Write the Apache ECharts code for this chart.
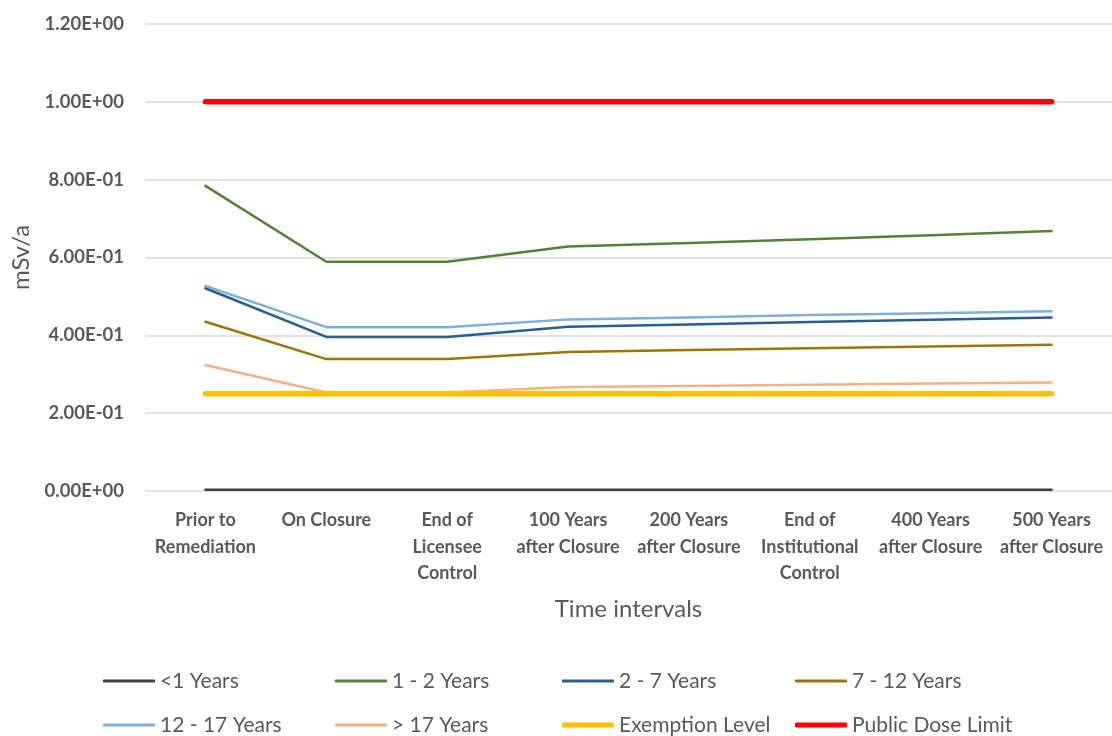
<!DOCTYPE html>
<html>
<head>
<meta charset="utf-8">
<script src="https://cdn.jsdelivr.net/npm/echarts@6/dist/echarts.min.js"></script>
<style>
  html, body { margin: 0; padding: 0; background: #fff; }
  #chart { width: 1112px; height: 736px; }
</style>
</head>
<body>
<div id="chart"></div>
<script>
// Time intervals on the x axis
const categories = [
  'Prior to\nRemediation',
  'On Closure',
  'End of\nLicensee\nControl',
  '100 Years\nafter Closure',
  '200 Years\nafter Closure',
  'End of\nInstitutional\nControl',
  '400 Years\nafter Closure',
  '500 Years\nafter Closure'
];

// Dose (mSv/a) by age group
const ageUnder1 = [0.003, 0.003, 0.003, 0.003, 0.003, 0.003, 0.003, 0.003];
const age1to2   = [0.784, 0.589, 0.589, 0.628, 0.637, 0.647, 0.657, 0.668];
const age2to7   = [0.521, 0.396, 0.396, 0.422, 0.428, 0.434, 0.440, 0.446];
const age7to12  = [0.435, 0.339, 0.339, 0.357, 0.362, 0.367, 0.371, 0.376];
const age12to17 = [0.527, 0.421, 0.421, 0.441, 0.446, 0.452, 0.457, 0.462];
const ageOver17 = [0.324, 0.253, 0.253, 0.267, 0.270, 0.273, 0.276, 0.279];

// Reference levels
const exemptionLevel  = [0.25, 0.25, 0.25, 0.25, 0.25, 0.25, 0.25, 0.25];
const publicDoseLimit = [1.0, 1.0, 1.0, 1.0, 1.0, 1.0, 1.0, 1.0];

// Y axis tick labels
const yTickLabels = ['0.00E+00', '2.00E-01', '4.00E-01', '6.00E-01', '8.00E-01', '1.00E+00', '1.20E+00'];

const FONT = 'Lato, "Open Sans", sans-serif';
const TXT = '#595959';

const seriesDefs = [
  { name: '<1 Years',          data: ageUnder1,       color: '#404040', width: 2.5 },
  { name: '1 - 2 Years',       data: age1to2,         color: '#548235', width: 2.5 },
  { name: '2 - 7 Years',       data: age2to7,         color: '#255e91', width: 2.5 },
  { name: '7 - 12 Years',      data: age7to12,        color: '#9e7400', width: 2.5 },
  { name: '12 - 17 Years',     data: age12to17,       color: '#7cafdd', width: 2.5 },
  { name: '> 17 Years',        data: ageOver17,       color: '#f4b183', width: 2.5 },
  { name: 'Exemption Level',   data: exemptionLevel,  color: '#ffc000', width: 5.5 },
  { name: 'Public Dose Limit', data: publicDoseLimit, color: '#ff0000', width: 5.5 }
];

// Legend laid out as a 4 x 2 grid, one legend component per entry
const legendCols = [103, 335, 562, 795];
const legendRows = [669, 713];
const legends = seriesDefs.map((s, i) => ({
  data: [s.name],
  left: legendCols[i % 4],
  top: legendRows[Math.floor(i / 4)],
  padding: 0,
  itemWidth: 52,
  itemHeight: s.width > 3 ? 5 : 3,
  itemGap: 4,
  icon: 'roundRect',
  textStyle: { fontFamily: FONT, fontSize: 21, color: TXT, lineHeight: 24 },
  selectedMode: false
}));

const chart = echarts.init(document.getElementById('chart'), null, { renderer: 'canvas' });

chart.setOption({
  backgroundColor: '#ffffff',
  animation: false,
  legend: legends,
  grid: { left: 145, right: 0, top: 24, bottom: 245, containLabel: false },
  xAxis: {
    type: 'category',
    data: categories,
    boundaryGap: true,
    name: 'Time intervals',
    nameLocation: 'middle',
    nameGap: 106,
    nameTextStyle: { fontFamily: FONT, fontSize: 24, color: TXT },
    axisLine: { show: false },
    axisTick: { show: false },
    axisLabel: {
      interval: 0,
      margin: 16,
      fontFamily: FONT,
      fontSize: 18,
      fontWeight: 'bold',
      color: TXT,
      lineHeight: 26.5,
      verticalAlign: 'top'
    }
  },
  yAxis: {
    type: 'value',
    min: 0,
    max: 1.2,
    interval: 0.2,
    name: 'mSv/a',
    nameLocation: 'middle',
    nameGap: 109,
    nameRotate: 90,
    nameTextStyle: { fontFamily: FONT, fontSize: 24, color: TXT },
    axisLine: { show: false },
    axisTick: { show: false },
    splitLine: { lineStyle: { color: '#d9d9d9', width: 1.5 } },
    axisLabel: {
      margin: 21,
      fontFamily: FONT,
      fontSize: 18.5,
      fontWeight: 'bold',
      color: TXT,
      formatter: (v) => yTickLabels[Math.round(v / 0.2)]
    }
  },
  series: seriesDefs.map((s, i) => ({
    name: s.name,
    type: 'line',
    data: s.data,
    color: s.color,
    symbol: 'none',
    z: 2 + i,
    lineStyle: { color: s.color, width: s.width, cap: 'round', join: 'round' }
  }))
});
</script>
</body>
</html>
